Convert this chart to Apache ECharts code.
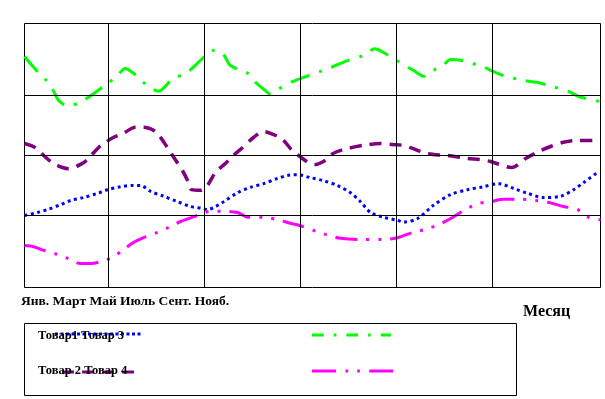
<!DOCTYPE html>
<html>
<head>
<meta charset="utf-8">
<script src="https://cdn.jsdelivr.net/npm/echarts@6/dist/echarts.min.js"></script>
<style>
html,body{margin:0;padding:0;background:#fff;}
#chart{width:605px;height:399px;}
</style>
</head>
<body>
<div id="chart"></div>
<script>
// Month labels shown under the plot
const monthLabels = ['Янв.', 'Март', 'Май', 'Июль', 'Сент.', 'Нояб.'];
const axisTitle = 'Месяц';
const seriesNames = ['Товар1', 'Товар 2', 'Товар 3', 'Товар 4'];

// Values: [month position, value]
const tovar1 = [ // blue dotted
  [0,1.2],[0.27,1.25],[0.48,1.3],[0.75,1.38],[0.96,1.45],[1.23,1.5],[1.52,1.57],[1.73,1.63],
  [2.0,1.68],[2.27,1.7],[2.42,1.7],[2.63,1.6],[2.9,1.52],[3.19,1.43],[3.46,1.35],[3.71,1.32],
  [3.81,1.3],[3.94,1.33],[4.15,1.43],[4.44,1.58],[4.71,1.67],[4.98,1.73],[5.27,1.82],[5.5,1.87],
  [5.69,1.88],[5.96,1.83],[6.23,1.78],[6.52,1.7],[6.79,1.58],[7.0,1.43],[7.21,1.25],[7.48,1.17],
  [7.77,1.12],[7.9,1.09],[8.19,1.15],[8.52,1.37],[8.88,1.55],[9.23,1.63],[9.56,1.68],[9.88,1.73],
  [10.19,1.65],[10.48,1.57],[10.81,1.5],[11.17,1.52],[11.44,1.63],[11.65,1.75],[11.94,1.92]
];
const tovar2 = [ // purple dashed
  [0,2.4],[0.23,2.33],[0.44,2.17],[0.58,2.08],[0.79,2.0],[0.92,1.98],[1.21,2.07],[1.33,2.15],
  [1.54,2.33],[1.69,2.42],[1.85,2.5],[2.06,2.57],[2.31,2.67],[2.48,2.67],[2.69,2.62],[2.79,2.55],
  [2.98,2.33],[3.15,2.12],[3.29,1.95],[3.4,1.78],[3.48,1.63],[3.67,1.62],[3.81,1.7],[3.98,1.92],
  [4.19,2.07],[4.35,2.2],[4.54,2.33],[4.77,2.5],[4.98,2.6],[5.27,2.52],[5.4,2.45],[5.58,2.28],
  [5.71,2.2],[5.92,2.08],[6.06,2.05],[6.27,2.12],[6.42,2.23],[6.65,2.3],[7.06,2.37],[7.42,2.4],
  [7.69,2.38],[7.88,2.37],[8.04,2.33],[8.4,2.23],[8.81,2.2],[9.23,2.15],[9.5,2.13],[9.71,2.1],
  [10.15,2.0],[10.44,2.15],[10.75,2.28],[10.96,2.35],[11.23,2.42],[11.52,2.45],[12,2.45]
];
const tovar3 = [ // green dash-dot
  [0,3.85],[0.29,3.58],[0.48,3.43],[0.6,3.28],[0.71,3.12],[0.88,3.03],[1.15,3.08],[1.35,3.18],
  [1.73,3.4],[1.92,3.52],[2.1,3.65],[2.27,3.57],[2.46,3.43],[2.63,3.33],[2.79,3.27],[3.08,3.47],
  [3.38,3.58],[3.58,3.72],[3.75,3.85],[3.92,3.95],[4.13,3.9],[4.29,3.7],[4.65,3.57],[4.81,3.42],
  [5.02,3.28],[5.1,3.23],[5.27,3.3],[5.58,3.43],[5.81,3.5],[6.23,3.62],[6.48,3.7],[6.73,3.78],
  [7.1,3.88],[7.29,3.98],[7.56,3.88],[7.83,3.75],[8.1,3.62],[8.33,3.52],[8.52,3.62],[8.71,3.7],
  [8.88,3.8],[9.13,3.78],[9.54,3.68],[9.77,3.6],[9.98,3.53],[10.4,3.45],[10.67,3.42],[10.9,3.37],
  [11.33,3.27],[11.56,3.18],[12,3.1]
];
const tovar4 = [ // magenta dash-dot-dot
  [0,0.7],[0.19,0.68],[0.4,0.62],[0.69,0.55],[0.92,0.48],[1.17,0.4],[1.38,0.4],[1.58,0.43],
  [1.83,0.5],[2.04,0.62],[2.27,0.75],[2.48,0.83],[2.77,0.92],[3.0,1.0],[3.25,1.1],[3.6,1.2],
  [3.88,1.27],[4.13,1.27],[4.44,1.25],[4.65,1.17],[4.98,1.17],[5.27,1.13],[5.54,1.07],[5.75,1.03],
  [6.1,0.93],[6.33,0.87],[6.58,0.82],[7.0,0.8],[7.48,0.8],[7.77,0.83],[8.1,0.92],[8.4,0.98],
  [8.63,1.05],[8.88,1.15],[9.23,1.32],[9.46,1.4],[9.71,1.43],[9.98,1.47],[10.33,1.47],[10.65,1.45],
  [10.9,1.42],[11.23,1.35],[11.52,1.3],[11.75,1.17],[12,1.13]
];

// Axis extents and grid-line positions
const xRange = [0, 12];
const yRange = [0, 4.4];
const xGridLines = [1.75, 3.75, 5.75, 7.75, 9.75];
const yGridLines = [1.2, 2.2, 3.2];

const FONT = 'Liberation Serif';
const chart = echarts.init(document.getElementById('chart'), null, {renderer: 'canvas'});

const gridMarks = xGridLines.map(v => ({xAxis: v})).concat(yGridLines.map(v => ({yAxis: v})));

function lineSeries(name, data, color, dash, width) {
  return {
    name: name, type: 'line', data: data, showSymbol: false, symbol: 'none',
    smooth: 0.3, z: 3, animation: false,
    lineStyle: {color: color, width: width, type: dash, cap: 'butt', join: 'round'}
  };
}

const option = {
  animation: false,
  backgroundColor: '#fff',
  grid: {left: 24.5, top: 23.5, width: 576, height: 264, show: true,
         borderColor: '#000', borderWidth: 1, backgroundColor: 'transparent'},
  xAxis: {type: 'value', min: xRange[0], max: xRange[1],
          axisLine: {show: false}, axisTick: {show: false}, axisLabel: {show: false}, splitLine: {show: false}},
  yAxis: {type: 'value', min: yRange[0], max: yRange[1],
          axisLine: {show: false}, axisTick: {show: false}, axisLabel: {show: false}, splitLine: {show: false}},
  series: [
    {type: 'line', data: [], z: 1, silent: true,
     markLine: {silent: true, symbol: ['none', 'none'], label: {show: false},
                lineStyle: {color: '#000', width: 1, type: 'solid'}, emphasis: {disabled: true},
                animation: false, data: gridMarks}},
    lineSeries(seriesNames[2], tovar3, '#00ff00', [20, 10, 3, 10], 3),
    lineSeries(seriesNames[1], tovar2, '#800080', [12, 8], 3.5),
    lineSeries(seriesNames[0], tovar1, '#0000ff', [3, 3.5], 3),
    lineSeries(seriesNames[3], tovar4, '#ff00ff', [22, 9, 3, 9, 3, 9], 3)
  ],
  graphic: [
    {type: 'text', left: 21, top: 295, z: 10,
     style: {text: monthLabels.join(' '), font: 'bold 13.5px "' + FONT + '"', fill: '#000'}},
    {type: 'text', left: 523, top: 304, z: 10,
     style: {text: axisTitle, font: 'bold 16px "' + FONT + '"', fill: '#000'}},
    {type: 'rect', shape: {x: 24.5, y: 323.5, width: 492, height: 72}, z: 5,
     style: {fill: 'transparent', stroke: '#000', lineWidth: 1}},
    // legend samples
    {type: 'polyline', z: 6, shape: {points: [[55, 334], [142, 334]]},
     style: {stroke: '#0000ff', lineWidth: 3, lineDash: [3, 2.5], fill: null}},
    {type: 'polyline', z: 6, shape: {points: [[62, 372], [136, 372]]},
     style: {stroke: '#800080', lineWidth: 3, lineDash: [12, 8], fill: null}},
    {type: 'polyline', z: 6, shape: {points: [[312, 335], [391, 335]]},
     style: {stroke: '#00ff00', lineWidth: 3, lineDash: [11.7, 10, 2.7, 10], fill: null}},
    {type: 'polyline', z: 6, shape: {points: [[312, 371], [394, 371]]},
     style: {stroke: '#ff00ff', lineWidth: 3, lineDash: [24, 9.5, 2.7, 9, 2.7, 9.3], fill: null}},
    {type: 'text', left: 38, top: 329, z: 10,
     style: {text: seriesNames[0] + ' ' + seriesNames[2], font: 'bold 12.5px "' + FONT + '"', fill: '#000'}},
    {type: 'text', left: 38, top: 364, z: 10,
     style: {text: seriesNames[1] + ' ' + seriesNames[3], font: 'bold 12.5px "' + FONT + '"', fill: '#000'}}
  ]
};
chart.setOption(option);
</script>
</body>
</html>
